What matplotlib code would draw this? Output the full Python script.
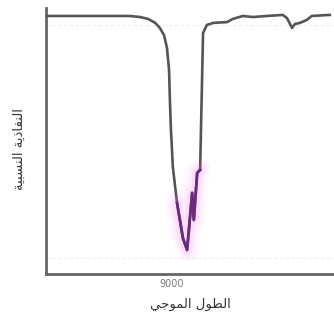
import matplotlib
matplotlib.use("Agg")
import matplotlib.pyplot as plt
import numpy as np

# Spectrum samples
wavenumber = [6000, 7300, 8000, 8240, 8430, 8600, 8710, 8810, 8880, 8930,
              8950, 8975, 9000, 9020, 9120, 9260, 9360, 9480, 9520, 9600,
              9670, 9740, 9830, 9980, 10310, 10450, 10690, 10930, 11260, 11640,
              11740, 11860, 11930, 12050, 12210, 12330, 12760]
transmittance = [97.0, 97.0, 97.0, 96.6, 95.9, 94.4, 92.5, 89.8, 85.0, 76.7,
                 65.4, 54.1, 46.6, 40.2, 26.7, 13.5, 9.0, 30.5, 20.3, 38.0,
                 39.1, 90.6, 93.6, 94.4, 94.7, 95.9, 97.0, 96.6, 97.0, 97.4,
                 96.2, 92.5, 94.0, 94.4, 95.5, 97.0, 97.4]

# Band of interest highlighted on top of the trace
band_start, band_end = 9100, 9680
x_ticks = [9000]
x_tick_labels = ["9000"]

# Arabic labels, pre-shaped (presentation forms, visual order)
x_label = "\uFEF2\uFE9F\uFEEE\uFEE4\uFEDF\uFE8D \uFEDD\uFEEE\uFEC4\uFEDF\uFE8D"   # الطول الموجي
y_label = "\uFE94\uFEF4\uFE92\uFEB4\uFEE8\uFEDF\uFE8D \uFE94\uFEF3\uFEAB\uFE8E\uFED4\uFEE8\uFEDF\uFE8D"  # النفاذية النسبية

x = np.array(wavenumber, dtype=float)
y = np.array(transmittance, dtype=float)

fig = plt.figure(figsize=(3.34, 3.20), dpi=100)
ax = fig.add_axes([0.138, 0.144, 0.862, 0.831])

ax.plot(x, y, color="#555555", lw=1.9, solid_joinstyle="round", zorder=3)

mask = (x >= band_start) & (x <= band_end)
for w, a in [(16, 0.05), (11, 0.07), (7, 0.10)]:
    ax.plot(x[mask], y[mask], color="#ee66ee", lw=w, alpha=a,
            solid_capstyle="round", zorder=4)
ax.plot(x[mask], y[mask], color="#6a2a80", lw=2.0, zorder=5)

ax.set_xlim(6000, 12860)
ax.set_ylim(0, 100)

ax.set_xticks(x_ticks)
ax.set_xticklabels(x_tick_labels, fontsize=7, color="#777777")
ax.tick_params(axis="x", length=0, pad=4)
ax.set_yticks([])

ax.grid(False)
for yy in [6, 93.6]:
    ax.axhline(yy, color="#e6e6e6", lw=0.6, ls=(0, (4, 3)), zorder=1)

for side in ["top", "right"]:
    ax.spines[side].set_visible(False)
for side in ["left", "bottom"]:
    ax.spines[side].set_color("#666666")
    ax.spines[side].set_linewidth(2.0)

ax.set_xlabel(x_label, fontsize=9.5, color="#333333", labelpad=6,
              family=["DejaVu Sans"])
ax.set_ylabel(y_label, fontsize=9.5, color="#333333",
              family=["DejaVu Sans"])
ax.yaxis.set_label_coords(-0.072, 0.47)

fig.savefig("out.png", dpi=100)
